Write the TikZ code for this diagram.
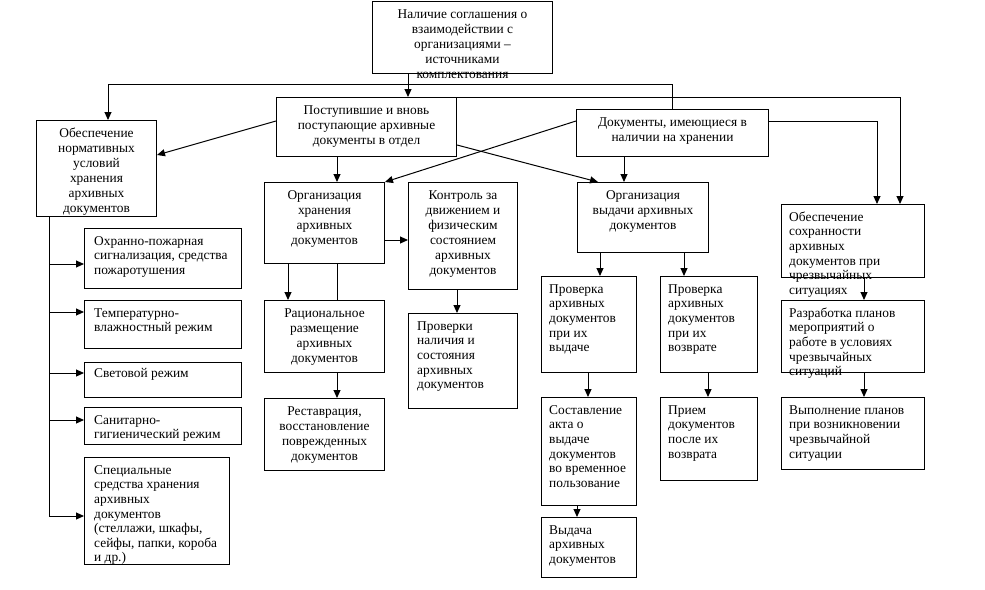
\documentclass[tikz,border=0pt]{standalone}
\usepackage{fontspec}
\setmainfont{Liberation Serif}
\usetikzlibrary{arrows.meta,calc}
\begin{document}
\begin{tikzpicture}[x=1pt,y=-1pt,
  box/.style={draw, line width=1pt, inner sep=0pt, anchor=north west},
  ctxt/.style={anchor=north, align=center, inner sep=0pt, font=\fontsize{13.4}{15}\selectfont},
  ltxt/.style={anchor=north west, align=left, inner sep=0pt, font=\fontsize{13.4}{14.6}\selectfont},
  ln/.style={line width=1pt},
  arr/.style={line width=1pt, -{Triangle[length=8pt,width=7pt]}}]
\path[use as bounding box] (0,0) rectangle (985,589);

% boxes
\node[box, minimum width=180, minimum height=72] (top) at (372,1) {};
\node[box, minimum width=180, minimum height=59] (post) at (276,97) {};
\node[box, minimum width=120, minimum height=96] (obn) at (36,120) {};
\node[box, minimum width=192, minimum height=47] (doc) at (576,109) {};
\node[box, minimum width=120, minimum height=81] (orgh) at (264,182) {};
\node[box, minimum width=109, minimum height=107] (kontr) at (408,182) {};
\node[box, minimum width=120, minimum height=72] (rac) at (264,300) {};
\node[box, minimum width=120, minimum height=72] (rest) at (264,398) {};
\node[box, minimum width=109, minimum height=95] (prov) at (408,313) {};
\node[box, minimum width=131, minimum height=70] (orgv) at (577,182) {};
\node[box, minimum width=95, minimum height=96] (pvyd) at (541,276) {};
\node[box, minimum width=97, minimum height=96] (pvoz) at (660,276) {};
\node[box, minimum width=95, minimum height=108] (sost) at (541,397) {};
\node[box, minimum width=95, minimum height=60] (vyd) at (541,517) {};
\node[box, minimum width=97, minimum height=83] (prim) at (660,397) {};
\node[box, minimum width=143, minimum height=73] (obs) at (781,204) {};
\node[box, minimum width=143, minimum height=72] (razr) at (781,300) {};
\node[box, minimum width=143, minimum height=72] (vyp) at (781,397) {};
\node[box, minimum width=157, minimum height=60] (ohr) at (84,228) {};
\node[box, minimum width=157, minimum height=48] (temp) at (84,300) {};
\node[box, minimum width=157, minimum height=35] (svet) at (84,362) {};
\node[box, minimum width=157, minimum height=37] (san) at (84,407) {};
\node[box, minimum width=145, minimum height=107] (spec) at (84,457) {};

% centred texts
\node[ctxt] (topT) at ($(top.north)+(0,7)$) {\rule{0pt}{10pt}Наличие соглашения о\\взаимодействии с\\организациями –\\источниками\\комплектования};
\node[ctxt] (postT) at ($(post.north)+(0,7)$) {\rule{0pt}{10pt}Поступившие и вновь\\поступающие архивные\\документы в отдел};
\node[ctxt] (obnT) at ($(obn.north)+(0,7)$) {\rule{0pt}{10pt}Обеспечение\\нормативных\\условий\\хранения\\архивных\\документов};
\node[ctxt] (docT) at ($(doc.north)+(0,7)$) {\rule{0pt}{10pt}Документы, имеющиеся в\\наличии на хранении};
\node[ctxt] (orghT) at ($(orgh.north)+(0,7)$) {\rule{0pt}{10pt}Организация\\хранения\\архивных\\документов};
\node[ctxt] (kontrT) at ($(kontr.north)+(0,7)$) {\rule{0pt}{10pt}Контроль за\\движением и\\физическим\\состоянием\\архивных\\документов};
\node[ctxt] (racT) at ($(rac.north)+(0,7)$) {\rule{0pt}{10pt}Рациональное\\размещение\\архивных\\документов};
\node[ctxt] (restT) at ($(rest.north)+(0,7)$) {\rule{0pt}{10pt}Реставрация,\\восстановление\\поврежденных\\документов};
\node[ctxt] (orgvT) at ($(orgv.north)+(0,7)$) {\rule{0pt}{10pt}Организация\\выдачи архивных\\документов};

% left-aligned texts
\node[ltxt] (provT) at ($(prov.north west)+(9,7)$) {\rule{0pt}{10pt}Проверки\\наличия и\\состояния\\архивных\\документов};
\node[ltxt] (pvydT) at ($(pvyd.north west)+(8,7)$) {\rule{0pt}{10pt}Проверка\\архивных\\документов\\при их\\выдаче};
\node[ltxt] (pvozT) at ($(pvoz.north west)+(8,7)$) {\rule{0pt}{10pt}Проверка\\архивных\\документов\\при их\\возврате};
\node[ltxt] (sostT) at ($(sost.north west)+(8,7)$) {\rule{0pt}{10pt}Составление\\акта о\\выдаче\\документов\\во временное\\пользование};
\node[ltxt] (vydT) at ($(vyd.north west)+(8,7)$) {\rule{0pt}{10pt}Выдача\\архивных\\документов};
\node[ltxt] (primT) at ($(prim.north west)+(8,7)$) {\rule{0pt}{10pt}Прием\\документов\\после их\\возврата};
\node[ltxt] (obsT) at ($(obs.north west)+(8,7)$) {\rule{0pt}{10pt}Обеспечение\\сохранности\\архивных\\документов при\\чрезвычайных\\ситуациях};
\node[ltxt] (razrT) at ($(razr.north west)+(8,7)$) {\rule{0pt}{10pt}Разработка планов\\мероприятий о\\работе в условиях\\чрезвычайных\\ситуаций};
\node[ltxt] (vypT) at ($(vyp.north west)+(8,7)$) {\rule{0pt}{10pt}Выполнение планов\\при возникновении\\чрезвычайной\\ситуации};
\node[ltxt] (ohrT) at ($(ohr.north west)+(10,7)$) {\rule{0pt}{10pt}Охранно-пожарная\\сигнализация, средства\\пожаротушения};
\node[ltxt] (tempT) at ($(temp.north west)+(10,7)$) {\rule{0pt}{10pt}Температурно-\\влажностный режим};
\node[ltxt] (svetT) at ($(svet.north west)+(10,5)$) {\rule{0pt}{10pt}Световой режим};
\node[ltxt] (sanT) at ($(san.north west)+(10,7)$) {\rule{0pt}{10pt}Санитарно-\\гигиенический режим};
\node[ltxt] (specT) at ($(spec.north west)+(10,7)$) {\rule{0pt}{10pt}Специальные\\средства хранения\\архивных\\документов\\(стеллажи, шкафы,\\сейфы, папки, короба\\и др.)};

% connectors
\coordinate (t1) at ($(top.south west)+(36,0)$);
\draw[arr] (t1) -- (t1 |- post.north);
\coordinate (j1) at ($(doc.north)+(0,-25)$);
\coordinate (o1) at ($(obn.north west)+(72,0)$);
\draw[arr] (doc.north) -- (j1) -| (o1);
\coordinate (s1) at ($(obs.north west)+(119,0)$);
\draw[arr] (post.north east) -| (s1);
\coordinate (s2) at ($(obs.north west)+(96,0)$);
\draw[arr] ($(doc.north east)+(0,12)$) -| (s2);
\coordinate (d1) at ($(doc.south west)+(48,0)$);
\draw[arr] (d1) -- (d1 |- orgv.north);
\draw[arr] ($(post.north west)+(0,24)$) -- ($(obn.north east)+(0,35)$);
\coordinate (p1) at ($(post.south west)+(61,0)$);
\draw[arr] (p1) -- (p1 |- orgh.north);
\draw[arr] ($(post.north east)+(0,48)$) -- ($(orgv.north west)+(21,0)$);
\draw[arr] ($(doc.north west)+(0,12)$) -- (orgh.north east);
\draw[arr] ($(orgh.north east)+(0,58)$) -- ($(kontr.north west)+(0,58)$);
\coordinate (h1) at ($(orgh.south west)+(24,0)$);
\draw[arr] (h1) -- (h1 |- rac.north);
\coordinate (h2) at ($(orgh.south west)+(73,0)$);
\draw[ln] (h2) -- (h2 |- rac.north);
\coordinate (r1) at ($(rac.south west)+(73,0)$);
\draw[arr] (r1) -- (r1 |- rest.north);
\coordinate (k1) at ($(kontr.south west)+(49,0)$);
\draw[arr] (k1) -- (k1 |- prov.north);
\coordinate (v1) at ($(orgv.south west)+(23,0)$);
\draw[arr] (v1) -- (v1 |- pvyd.north);
\coordinate (v2) at ($(orgv.south west)+(107,0)$);
\draw[arr] (v2) -- (v2 |- pvoz.north);
\coordinate (y1) at ($(pvyd.south west)+(47,0)$);
\draw[arr] (y1) -- (y1 |- sost.north);
\coordinate (y2) at ($(sost.south west)+(36,0)$);
\draw[arr] (y2) -- (y2 |- vyd.north);
\coordinate (z1) at ($(pvoz.south west)+(48,0)$);
\draw[arr] (z1) -- (z1 |- prim.north);
\coordinate (c1) at ($(obs.south west)+(83,0)$);
\draw[arr] (c1) -- (c1 |- razr.north);
\coordinate (c2) at ($(razr.south west)+(83,0)$);
\draw[arr] (c2) -- (c2 |- vyp.north);
% left column
\coordinate (b0) at ($(obn.south west)+(13,0)$);
\coordinate (e1) at ($(ohr.north west)+(0,36)$);
\coordinate (e2) at ($(temp.north west)+(0,12)$);
\coordinate (e3) at ($(svet.north west)+(0,11)$);
\coordinate (e4) at ($(san.north west)+(0,13)$);
\coordinate (e5) at ($(spec.north west)+(0,59)$);
\draw[ln] (b0) -- (b0 |- e5);
\draw[arr] (b0 |- e1) -- (e1);
\draw[arr] (b0 |- e2) -- (e2);
\draw[arr] (b0 |- e3) -- (e3);
\draw[arr] (b0 |- e4) -- (e4);
\draw[arr] (b0 |- e5) -- (e5);
\end{tikzpicture}
\end{document}
